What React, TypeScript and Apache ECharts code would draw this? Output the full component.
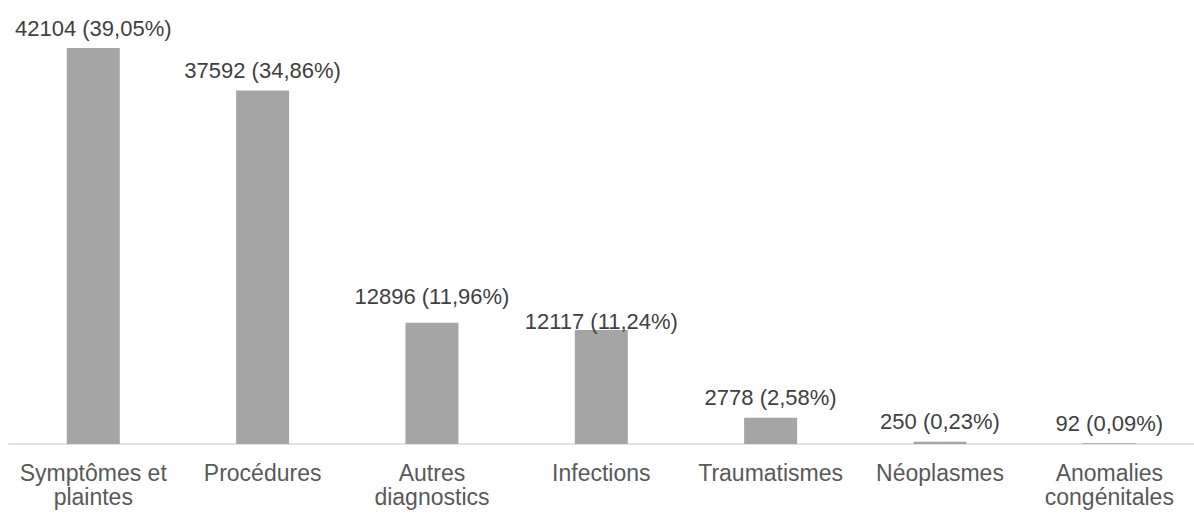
import React, { useEffect, useRef } from "react";
import * as echarts from "echarts";

const categories = [
  "Symptômes et\nplaintes",
  "Procédures",
  "Autres\ndiagnostics",
  "Infections",
  "Traumatismes",
  "Néoplasmes",
  "Anomalies\ncongénitales",
];
const counts = [42104, 37592, 12896, 12117, 2778, 250, 92];
const percents = ["39,05", "34,86", "11,96", "11,24", "2,58", "0,23", "0,09"];
const labelShift = [0, 0, -6.5, 11, 0, 0, 0];

export default function App() {
  const ref = useRef<HTMLDivElement>(null);
  useEffect(() => {
    document.body.style.margin = "0";
    const chart = echarts.init(ref.current!, null, { renderer: "svg" });
    const font = "'Liberation Sans', Arial, sans-serif";
    chart.setOption({
      animation: false,
      grid: { left: 8.6, right: -3.2, top: 20.8, bottom: 72 },
      xAxis: {
        type: "category",
        data: categories,
        axisLine: { show: true, lineStyle: { color: "#d9d9d9", width: 1.5 } },
        axisTick: { show: false },
        axisLabel: {
          interval: 0,
          margin: 17,
          color: "#595959",
          fontSize: 23,
          lineHeight: 24,
          fontFamily: font,
        },
      },
      yAxis: {
        type: "value",
        min: 0,
        max: 45000,
        show: false,
        splitLine: { show: false },
      },
      series: [
        {
          type: "bar",
          barWidth: 53,
          itemStyle: { color: "#a5a5a5" },
          data: counts.map((v, i) => ({
            value: v,
            label: { offset: [0, labelShift[i]] },
          })),
          label: {
            show: true,
            position: "top",
            distance: 9,
            color: "#404040",
            fontSize: 22,
            fontFamily: font,
            formatter: (p: any) => `${counts[p.dataIndex]} (${percents[p.dataIndex]}%)`,
          },
        },
      ],
    });
    return () => chart.dispose();
  }, []);
  return <div ref={ref} style={{ width: 1194, height: 516 }} />;
}
